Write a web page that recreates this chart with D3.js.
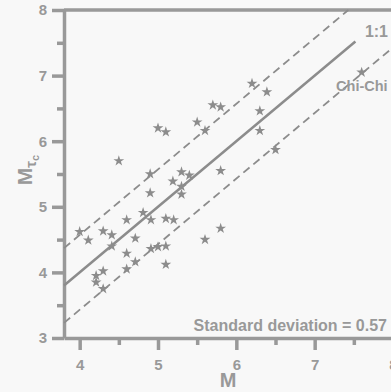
<!DOCTYPE html>
<html>
<head>
<meta charset="utf-8">
<script src="https://cdn.jsdelivr.net/npm/d3@7"></script>
<style>
  html, body { margin: 0; padding: 0; background: #f8f8f8; }
  svg { display: block; font-family: "Liberation Sans", Arial, sans-serif; font-weight: bold; }
</style>
</head>
<body>
<div id="app"></div>
<script>
// observed magnitude M vs. tau_c magnitude
const mVals = [4.5, 4.9, 5.19, 5.3, 5.4, 5.3, 4.9, 5.3, 5.8, 4.81, 4.6, 4.91, 5.1, 5.2,
  4.0, 4.11, 4.3, 4.41, 4.71, 4.41, 4.6, 4.91, 5.0, 5.1, 4.71, 4.6, 4.3, 4.21, 4.21, 4.3,
  5.1, 5.8, 5.6, 6.2, 6.39, 5.7, 5.8, 6.3, 5.5, 5.6, 5.0, 5.1, 6.3, 6.5, 7.6];
const mtcVals = [5.7, 5.5, 5.39, 5.53, 5.48, 5.31, 5.21, 5.19, 5.55, 4.91, 4.8, 4.8, 4.82, 4.8,
  4.62, 4.49, 4.63, 4.57, 4.52, 4.4, 4.29, 4.36, 4.39, 4.4, 4.16, 4.05, 4.02, 3.95, 3.85, 3.75,
  4.12, 4.67, 4.5, 6.88, 6.75, 6.55, 6.52, 6.46, 6.29, 6.16, 6.2, 6.14, 6.16, 5.87, 7.05];
const xMajor = [4, 5, 6, 7, 8];
const xMinor = [4.5, 5.5, 6.5, 7.5];
const yMajor = [3, 4, 5, 6, 7, 8];
const yMinor = [3.5, 4.5, 5.5, 6.5, 7.5];
const lineStart = 3.8;
const lineEnd = 7.52;
const stdDev = 0.57;
const chiChiIndex = 44;

const W = 391, H = 392;
const grey = "#999999";
const markGrey = "#8c8c8c";

const svg = d3.select("#app").append("svg").attr("width", W).attr("height", H);

const x = d3.scaleLinear().domain([3.8, 8]).range([64, 393]);
const y = d3.scaleLinear().domain([3, 8]).range([338, 10]);

// minor ticks
svg.append("g")
  .attr("transform", `translate(0, ${y(3)})`)
  .call(d3.axisBottom(x).tickValues(xMinor).tickSize(7).tickFormat(""))
  .call((g) => g.select(".domain").remove());
svg.append("g")
  .attr("transform", `translate(${x(3.8)}, 0)`)
  .call(d3.axisLeft(y).tickValues(yMinor).tickSize(7).tickFormat(""))
  .call((g) => g.select(".domain").remove());

const xAxis = svg.append("g")
  .attr("transform", `translate(0, ${y(3)})`)
  .call(d3.axisBottom(x).tickValues(xMajor).tickFormat(d3.format("d"))
    .tickSize(12).tickPadding(9).tickSizeOuter(0));
const yAxis = svg.append("g")
  .attr("transform", `translate(${x(3.8)}, 0)`)
  .call(d3.axisLeft(y).tickValues(yMajor).tickFormat(d3.format("d"))
    .tickSize(12).tickPadding(5).tickSizeOuter(0));

svg.selectAll(".tick line").attr("stroke", grey).attr("stroke-width", 3.5);
svg.selectAll(".domain").attr("stroke", grey).attr("stroke-width", 3.5);
svg.selectAll(".tick text")
  .attr("fill", grey)
  .style("font-size", "15px")
  .style("font-weight", "bold")
  .style("font-family", "'Liberation Sans', Arial, sans-serif");

// top frame line
svg.append("line")
  .attr("x1", x(3.8)).attr("x2", x(8))
  .attr("y1", y(8)).attr("y2", y(8))
  .attr("stroke", grey).attr("stroke-width", 3.5);

// 1:1 line and +/- std dev lines
svg.append("line")
  .attr("x1", x(lineStart)).attr("y1", y(lineStart))
  .attr("x2", x(lineEnd)).attr("y2", y(lineEnd))
  .attr("stroke", markGrey).attr("stroke-width", 2.5);

svg.append("line")
  .attr("x1", x(lineStart)).attr("y1", y(lineStart + stdDev))
  .attr("x2", x(8 - stdDev)).attr("y2", y(8))
  .attr("stroke", markGrey).attr("stroke-width", 1.8)
  .attr("stroke-dasharray", "8,5");

svg.append("line")
  .attr("x1", x(lineStart)).attr("y1", y(lineStart - stdDev))
  .attr("x2", x(8)).attr("y2", y(8 - stdDev))
  .attr("stroke", markGrey).attr("stroke-width", 1.8)
  .attr("stroke-dasharray", "8,5");

// stars
const star = d3.symbol().type(d3.symbolStar).size(36);
svg.append("g")
  .selectAll("path")
  .data(mVals)
  .join("path")
  .attr("d", star)
  .attr("transform", (d, i) => `translate(${x(d)}, ${y(mtcVals[i])})`)
  .attr("fill", markGrey);

// annotations
svg.append("text")
  .attr("x", 388).attr("y", 37)
  .attr("text-anchor", "end")
  .attr("fill", grey)
  .style("font-size", "16px")
  .text("1:1");

svg.append("text")
  .attr("x", x(mVals[chiChiIndex]) + 26).attr("y", y(mtcVals[chiChiIndex]) + 19)
  .attr("text-anchor", "end")
  .attr("fill", grey)
  .style("font-size", "14.5px")
  .text("Chi-Chi");

svg.append("text")
  .attr("x", 387).attr("y", 331)
  .attr("text-anchor", "end")
  .attr("fill", grey)
  .style("font-size", "16px")
  .text("Standard deviation = 0.57");

// axis titles
svg.append("text")
  .attr("x", 228).attr("y", 387)
  .attr("text-anchor", "middle")
  .attr("fill", grey)
  .style("font-size", "20px")
  .text("M");

const yTitle = svg.append("text")
  .attr("transform", "translate(32, 170) rotate(-90)")
  .attr("text-anchor", "middle")
  .attr("fill", grey)
  .style("font-size", "21px");
yTitle.append("tspan").text("M");
yTitle.append("tspan").attr("dy", 4).style("font-size", "15px").text("τ");
yTitle.append("tspan").attr("dy", 3).style("font-size", "11px").text("c");
</script>
</body>
</html>
